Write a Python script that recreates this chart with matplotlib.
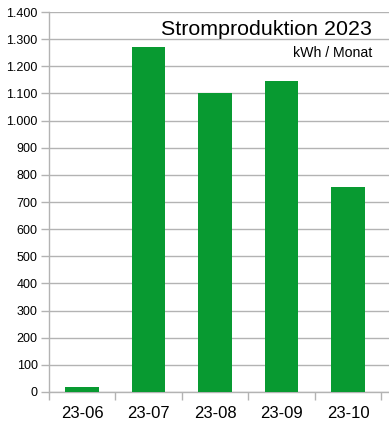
import numpy as np
import matplotlib.pyplot as plt
from matplotlib.ticker import FuncFormatter, FixedLocator

plt.rcParams['font.family'] = ['Liberation Sans', 'DejaVu Sans']

# Daten
monate = ['23-06', '23-07', '23-08', '23-09', '23-10']
kwh = [18, 1271, 1102, 1146, 755]

grau = '#b3b3b3'
gruen = '#089a31'

fig = plt.figure(figsize=(3.89, 4.26), dpi=100)
ax = fig.add_axes([48.7 / 389, 34 / 426, (389 - 48.7) / 389, 380 / 426])

x = np.arange(len(monate))
ax.bar(x, kwh, width=0.51, color=gruen, zorder=3)

ax.set_ylim(0, 1400)
ax.set_xlim(-0.5, 4.616)
ax.set_yticks(np.arange(0, 1401, 100))
ax.yaxis.set_major_formatter(FuncFormatter(lambda v, p: f'{int(v):,}'.replace(',', '.')))
ax.grid(axis='y', color=grau, linewidth=1, zorder=0)

ax.set_xticks(x)
ax.set_xticklabels(monate)
ax.xaxis.set_minor_locator(FixedLocator(np.arange(-0.5, 5, 1)))
ax.tick_params(axis='x', which='major', length=0, labelsize=12, pad=10)
ax.tick_params(axis='x', which='minor', length=6, color=grau, width=1)
ax.tick_params(axis='y', length=6, color=grau, width=1, labelsize=9, pad=2)

for s in ['top', 'right']:
    ax.spines[s].set_visible(False)
for s in ['left', 'bottom']:
    ax.spines[s].set_color(grau)
    ax.spines[s].set_linewidth(1)

fig.text(372 / 389, 1 - 35 / 426, 'Stromproduktion 2023', ha='right', va='baseline', fontsize=15.4)
fig.text(372 / 389, 1 - 57 / 426, 'kWh / Monat', ha='right', va='baseline', fontsize=10.2)

fig.savefig('out.png', dpi=100)
